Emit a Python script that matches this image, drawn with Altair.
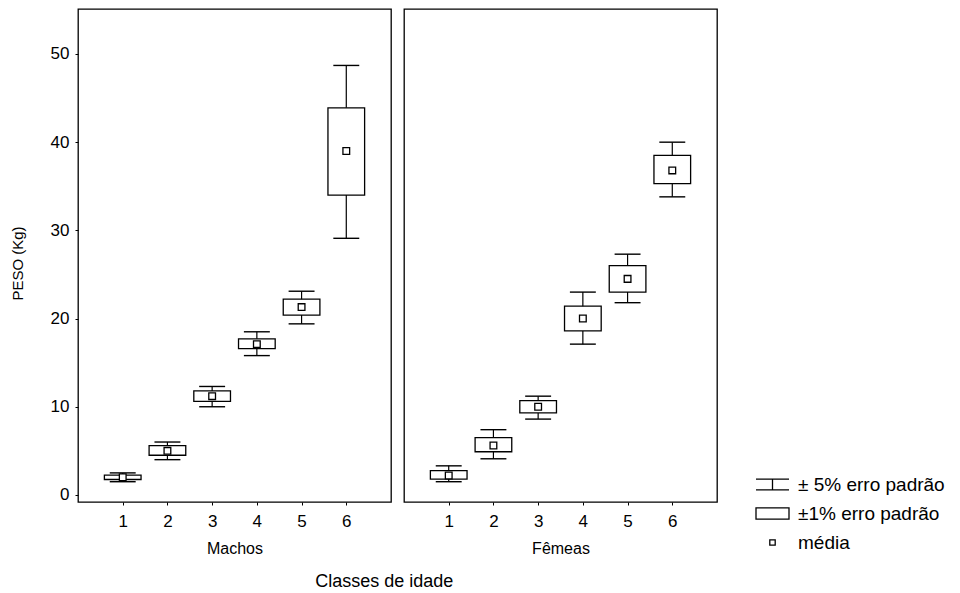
import altair as alt
import pandas as pd

# Age classes on the x axis
classes = [1, 2, 3, 4, 5, 6]

# Machos: mean, ±1% box limits and ±5% whisker limits (kg)
media_m = [2.0, 5.0, 11.2, 17.1, 21.3, 39.0]
caixa_inf_m = [1.75, 4.5, 10.6, 16.6, 20.4, 34.0]
caixa_sup_m = [2.25, 5.6, 11.8, 17.7, 22.2, 43.9]
bigode_inf_m = [1.5, 4.0, 10.0, 15.8, 19.4, 29.1]
bigode_sup_m = [2.5, 6.0, 12.3, 18.5, 23.1, 48.7]

# Fêmeas
media_f = [2.2, 5.6, 10.0, 20.0, 24.5, 36.8]
caixa_inf_f = [1.8, 4.9, 9.3, 18.6, 23.0, 35.3]
caixa_sup_f = [2.75, 6.5, 10.7, 21.4, 26.0, 38.5]
bigode_inf_f = [1.5, 4.1, 8.6, 17.1, 21.8, 33.8]
bigode_sup_f = [3.3, 7.4, 11.2, 23.0, 27.3, 40.0]

y_ticks = [0, 10, 20, 30, 40, 50]
legenda = ["± 5% erro padrão", "±1% erro padrão", "média"]

FONT = "Liberation Sans"
W, H = 313, 493


def tabela(media, cinf, csup, binf, bsup):
    return pd.DataFrame({
        "classe": classes, "media": media,
        "cinf": cinf, "csup": csup, "binf": binf, "bsup": bsup,
    })


def painel(df, titulo, eixo_y, com_legenda):
    xs = alt.Scale(domain=[0, 7], nice=False)
    ys = alt.Scale(domain=[-0.8, 55.1], nice=False, zero=False)
    x_axis = alt.Axis(values=classes, title=titulo, tickSize=3, labelPadding=8,
                      labelFontSize=17, titleFontSize=16, titleFontWeight="normal",
                      titlePadding=11, labelAngle=0)
    if eixo_y:
        y_axis = alt.Axis(values=y_ticks, title="PESO (Kg)", tickSize=3, labelPadding=6,
                          labelFontSize=17, titleFontSize=15, titleFontWeight="normal",
                          titlePadding=25, titleY=254)
    else:
        y_axis = None

    base = alt.Chart(df).transform_calculate(
        bx1="datum.classe - 0.41", bx2="datum.classe + 0.41",
        cx1="datum.classe - 0.29", cx2="datum.classe + 0.29",
    )
    haste = base.mark_rule(color="black", strokeWidth=1.2).encode(
        x=alt.X("classe:Q", scale=xs, axis=x_axis),
        y=alt.Y("binf:Q", scale=ys, axis=y_axis),
        y2="bsup:Q",
    )
    cap_inf = base.mark_rule(color="black", strokeWidth=1.4).encode(
        x="cx1:Q", x2="cx2:Q", y="binf:Q")
    cap_sup = base.mark_rule(color="black", strokeWidth=1.4).encode(
        x="cx1:Q", x2="cx2:Q", y="bsup:Q")
    caixa = base.mark_rect(fill="white", stroke="black", strokeWidth=1.3).encode(
        x="bx1:Q", x2="bx2:Q", y="cinf:Q", y2="csup:Q")
    media = base.mark_square(size=45, fill="white", stroke="black",
                             strokeWidth=1.3, opacity=1).encode(
        x="classe:Q", y="media:Q")
    camadas = [haste, cap_inf, cap_sup, caixa, media]

    if com_legenda:
        simbolos = [
            "M-2.75,-0.9H2.75M0,-0.9V0.9M-2.75,0.9H2.75",
            "M-2.75,-0.95H2.75V0.95H-2.75Z",
            "M-0.45,-0.45H0.45V0.45H-0.45Z",
        ]
        # invisible carrier points for the legend, kept inside the plot area
        leg = alt.Chart(pd.DataFrame({"item": legenda})).mark_point(
            opacity=0, size=1
        ).encode(
            x=alt.value(W / 2), y=alt.value(H / 2),
            shape=alt.Shape("item:N",
                            scale=alt.Scale(domain=legenda, range=simbolos),
                            legend=alt.Legend(
                                orient="none", legendX=685, legendY=466, title=None,
                                symbolSize=144, symbolStrokeColor="black",
                                symbolFillColor="white", symbolStrokeWidth=1.3,
                                symbolOpacity=1, labelFontSize=19, labelOffset=16,
                                labelColor="black", rowPadding=9, labelLimit=300)),
        )
        camadas.append(leg)

    return alt.layer(*camadas).properties(width=W, height=H)


machos = painel(tabela(media_m, caixa_inf_m, caixa_sup_m, bigode_inf_m, bigode_sup_m),
                "Machos", True, False)
femeas = painel(tabela(media_f, caixa_inf_f, caixa_sup_f, bigode_inf_f, bigode_sup_f),
                "Fêmeas", False, True)

chart = alt.hconcat(machos, femeas, spacing=11).properties(
    title=alt.TitleParams("Classes de idade", orient="bottom", anchor="middle",
                          fontSize=18, fontWeight="normal", font=FONT, color="black",
                          offset=16, dx=-93),
    padding={"left": 9, "top": 8, "right": 5, "bottom": 5},
    background="white",
).configure_view(
    stroke="black", strokeWidth=1.3
).configure_axis(
    grid=False, domain=False, labelFont=FONT, titleFont=FONT,
    labelColor="black", titleColor="black", tickColor="black",
).configure_legend(
    labelFont=FONT
)

chart.save("out.html", embed_options={"renderer": "svg", "actions": False})
